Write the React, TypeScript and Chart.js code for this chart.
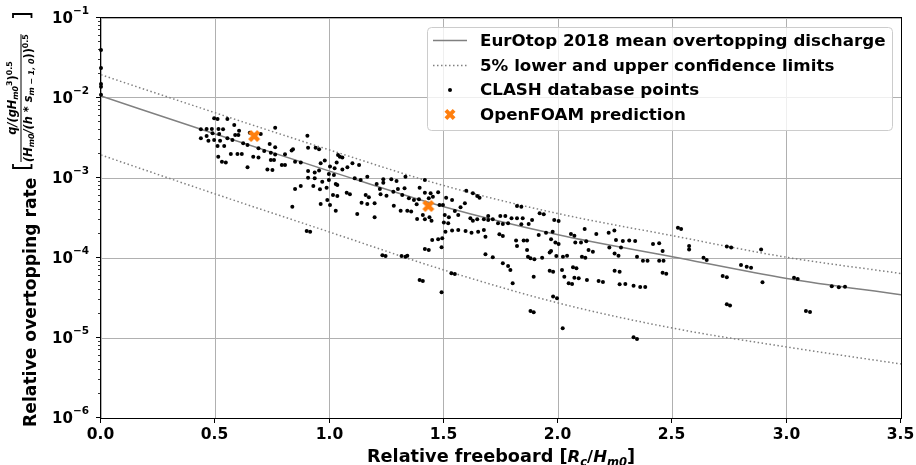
import React, { useEffect, useRef } from "react";
import { Chart, registerables } from "chart.js";

Chart.register(...registerables);

const FONT = '"DejaVu Sans", "Liberation Sans", sans-serif';

// Curves (relative freeboard -> relative overtopping rate)
const curveX = [0, 0.5, 1.0, 1.5, 2.0, 2.5, 3.0, 3.5];
const meanQ = [1.06e-2, 3.55e-3, 1.22e-3, 4.37e-4, 1.95e-4, 1.035e-4, 5.56e-5, 3.47e-5];
const upperQ = [1.95e-2, 6.53e-3, 2.24e-3, 8.04e-4, 3.59e-4, 1.9e-4, 1.02e-4, 6.4e-5];
const lowerQ = [1.94e-3, 6.31e-4, 2.11e-4, 7.08e-5, 2.74e-5, 1.33e-5, 7.72e-6, 4.73e-6];

// OpenFOAM predictions
const foamX = [0.67, 1.432];
const foamQ = [3.35e-3, 4.47e-4];

// CLASH database points [Rc/Hm0, q*]
const clashPoints: [number, number][] = [
  [0.0, 3.98e-2], [0.0, 2.37e-2], [0.0, 1.5e-2], [0.0, 1.38e-2], [0.0, 1.1e-2],
  [0.495, 5.57e-3], [0.510, 5.46e-3], [0.553, 5.46e-3], [0.583, 4.6e-3], [0.604, 3.91e-3],
  [0.762, 4.26e-3], [0.437, 4.06e-3], [0.462, 4.1e-3], [0.485, 4.1e-3], [0.514, 4.1e-3],
  [0.534, 4.06e-3], [0.488, 3.62e-3], [0.517, 3.55e-3], [0.587, 3.45e-3], [0.601, 3.45e-3],
  [0.651, 3.69e-3], [0.699, 3.55e-3], [0.437, 3.13e-3], [0.462, 3.35e-3], [0.470, 2.93e-3],
  [0.495, 2.98e-3], [0.521, 2.93e-3], [0.553, 3.13e-3], [0.575, 2.98e-3], [0.510, 2.51e-3],
  [0.539, 2.51e-3], [0.622, 2.71e-3], [0.641, 2.58e-3], [0.689, 2.35e-3], [0.738, 2.66e-3],
  [0.762, 2.42e-3], [0.714, 2.18e-3], [0.743, 2.07e-3], [0.762, 1.96e-3], [0.568, 2.0e-3],
  [0.597, 2.0e-3], [0.616, 2.0e-3], [0.513, 1.85e-3], [0.666, 1.85e-3], [0.689, 1.81e-3],
  [0.805, 1.98e-3], [0.834, 2.2e-3], [0.840, 2.28e-3], [0.529, 1.6e-3], [0.546, 1.56e-3],
  [0.743, 1.68e-3], [0.757, 1.68e-3], [0.791, 1.45e-3], [0.805, 1.45e-3], [0.849, 1.6e-3],
  [0.874, 1.56e-3], [0.641, 1.36e-3], [0.728, 1.28e-3], [0.750, 1.26e-3], [0.849, 7.29e-4],
  [0.874, 7.94e-4], [0.837, 4.38e-4],
  [0.903, 3.38e-3], [0.906, 2.39e-3], [0.939, 2.39e-3], [0.954, 2.28e-3], [1.037, 1.94e-3],
  [1.045, 1.85e-3], [1.056, 1.81e-3], [0.961, 1.53e-3], [0.979, 1.65e-3], [1.031, 1.56e-3],
  [1.002, 1.39e-3], [1.022, 1.32e-3], [1.078, 1.36e-3], [1.100, 1.53e-3], [1.129, 1.45e-3],
  [0.906, 1.22e-3], [0.935, 1.17e-3], [0.954, 1.24e-3], [0.997, 1.12e-3], [1.019, 1.09e-3],
  [1.056, 1.28e-3], [0.906, 1.01e-3], [0.935, 9.9e-4], [0.968, 9.0e-4], [0.997, 9.44e-4],
  [1.027, 8.41e-4], [1.034, 8.18e-4], [0.929, 7.94e-4], [0.958, 7.22e-4], [0.987, 7.57e-4],
  [1.110, 9.9e-4], [1.136, 9.44e-4], [1.165, 1.04e-3], [1.206, 8.41e-4], [1.235, 9.62e-4],
  [1.235, 8.74e-4], [1.270, 9.62e-4], [1.293, 9.17e-4], [1.332, 1.04e-3], [1.220, 7.29e-4],
  [1.279, 6.75e-4], [1.299, 7.29e-4], [1.318, 6.13e-4], [1.328, 7.43e-4], [1.075, 6.56e-4],
  [1.089, 6.25e-4], [1.015, 6.13e-4], [1.034, 5.96e-4], [0.990, 5.31e-4], [0.961, 4.73e-4],
  [1.002, 4.6e-4], [1.140, 4.92e-4], [1.158, 6.13e-4], [1.172, 5.73e-4], [1.165, 4.73e-4],
  [1.197, 4.82e-4], [1.223, 6.25e-4], [1.249, 6.01e-4], [1.347, 5.57e-4], [1.369, 5.31e-4],
  [1.391, 5.41e-4], [1.281, 4.51e-4], [1.311, 3.91e-4], [1.340, 3.91e-4], [1.357, 3.8e-4],
  [1.381, 4.69e-4], [1.383, 3.07e-4], [1.027, 3.91e-4], [1.121, 3.55e-4], [1.197, 3.22e-4],
  [0.900, 2.18e-4], [0.915, 2.13e-4], [1.231, 1.08e-4], [1.245, 1.06e-4], [1.315, 1.06e-4],
  [1.332, 1.04e-4], [1.340, 1.07e-4],
  [1.417, 9.44e-4], [1.394, 7.57e-4], [1.417, 6.56e-4], [1.442, 6.43e-4], [1.475, 6.62e-4],
  [1.452, 5.84e-4], [1.434, 5.57e-4], [1.481, 4.6e-4], [1.496, 4.6e-4], [1.510, 5.68e-4],
  [1.536, 5.31e-4], [1.598, 6.95e-4], [1.627, 6.43e-4], [1.646, 5.96e-4], [1.656, 5.68e-4],
  [1.592, 4.82e-4], [1.573, 4.3e-4], [1.548, 3.87e-4], [1.563, 3.45e-4], [1.408, 3.45e-4],
  [1.417, 3.04e-4], [1.437, 3.22e-4], [1.446, 2.93e-4], [1.504, 3.45e-4], [1.522, 3.22e-4],
  [1.500, 2.77e-4], [1.519, 2.71e-4], [1.616, 3.13e-4], [1.627, 2.93e-4], [1.646, 3.04e-4],
  [1.675, 3.04e-4], [1.694, 3.35e-4], [1.694, 2.99e-4], [1.714, 3.04e-4], [1.747, 3.35e-4],
  [1.769, 3.35e-4], [1.796, 3.13e-4], [1.820, 3.13e-4], [1.845, 3.13e-4], [1.886, 2.99e-4],
  [1.737, 2.71e-4], [1.758, 2.66e-4], [1.781, 2.71e-4], [1.820, 4.47e-4], [1.839, 4.38e-4],
  [1.839, 2.64e-4], [1.871, 2.66e-4], [1.507, 2.13e-4], [1.536, 2.2e-4], [1.563, 2.24e-4],
  [1.595, 2.18e-4], [1.621, 2.07e-4], [1.650, 2.13e-4], [1.675, 2.24e-4], [1.682, 1.85e-4],
  [1.743, 1.98e-4], [1.758, 1.88e-4], [1.449, 1.68e-4], [1.475, 1.71e-4], [1.493, 1.76e-4],
  [1.417, 1.3e-4], [1.434, 1.26e-4], [1.490, 1.36e-4], [1.816, 1.65e-4], [1.820, 1.41e-4],
  [1.849, 1.65e-4], [1.864, 1.65e-4], [1.864, 1.26e-4], [1.868, 1.04e-4], [1.879, 9.9e-5],
  [1.682, 1.11e-4], [1.714, 1.02e-4], [1.758, 8.58e-5], [1.781, 7.94e-5], [1.791, 7.08e-5],
  [1.893, 5.84e-5], [1.533, 6.43e-5], [1.548, 6.31e-5], [1.394, 5.31e-5], [1.408, 5.16e-5],
  [1.801, 4.82e-5], [1.490, 3.72e-5], [1.879, 2.18e-5], [1.893, 2.1e-5],
  [1.919, 3.62e-4], [1.937, 3.52e-4], [1.983, 2.99e-4], [2.002, 2.9e-4], [1.915, 1.94e-4],
  [1.947, 2.07e-4], [1.976, 2.13e-4], [1.969, 1.71e-4], [1.988, 1.56e-4], [2.002, 1.5e-4],
  [2.056, 2.0e-4], [2.071, 1.9e-4], [2.116, 2.3e-4], [2.167, 2.0e-4], [2.221, 2.07e-4],
  [2.246, 2.2e-4], [2.075, 1.56e-4], [2.100, 1.56e-4], [2.123, 1.62e-4], [2.253, 1.68e-4],
  [2.283, 1.63e-4], [2.311, 1.65e-4], [2.337, 1.63e-4], [1.963, 1.17e-4], [1.969, 1.22e-4],
  [2.133, 1.26e-4], [2.152, 1.2e-4], [2.224, 1.35e-4], [2.275, 1.35e-4], [2.247, 1.14e-4],
  [2.264, 1.07e-4], [1.896, 9.62e-5], [1.930, 1.01e-4], [1.992, 1.06e-4], [2.021, 1.04e-4],
  [2.039, 1.07e-4], [2.104, 1.04e-4], [2.119, 1.01e-4], [2.345, 1.04e-4], [2.371, 9.26e-5],
  [2.391, 9.26e-5], [1.963, 6.95e-5], [1.978, 6.75e-5], [2.017, 7.08e-5], [2.065, 7.64e-5],
  [2.080, 7.43e-5], [2.027, 5.84e-5], [2.071, 5.68e-5], [2.090, 5.57e-5], [2.046, 4.82e-5],
  [2.061, 4.73e-5], [2.126, 5.31e-5], [2.177, 5.16e-5], [2.196, 5.01e-5], [2.247, 6.95e-5],
  [2.269, 6.75e-5], [2.269, 4.69e-5], [2.294, 4.73e-5], [2.330, 4.51e-5], [2.359, 4.34e-5],
  [2.381, 4.34e-5], [1.978, 3.29e-5], [1.995, 3.13e-5], [2.020, 1.32e-5], [2.330, 1.02e-5],
  [2.345, 9.7e-6],
  [2.524, 2.39e-4], [2.538, 2.3e-4], [2.415, 1.5e-4], [2.442, 1.53e-4], [2.457, 1.22e-4],
  [2.573, 1.41e-4], [2.573, 1.28e-4], [2.738, 1.39e-4], [2.757, 1.35e-4], [2.888, 1.28e-4],
  [2.442, 9.26e-5], [2.461, 9.26e-5], [2.636, 1.01e-4], [2.650, 9.44e-5], [2.800, 8.18e-5],
  [2.825, 7.79e-5], [2.844, 7.57e-5], [2.457, 6.56e-5], [2.473, 6.37e-5], [2.720, 5.96e-5],
  [2.738, 5.73e-5], [2.894, 4.97e-5], [2.738, 2.64e-5], [2.752, 2.54e-5],
  [3.032, 5.68e-5], [3.048, 5.46e-5], [3.084, 2.18e-5], [3.102, 2.11e-5], [3.197, 4.43e-5],
  [3.228, 4.3e-5], [3.255, 4.38e-5],
];

const xTickValues = [0, 0.5, 1.0, 1.5, 2.0, 2.5, 3.0, 3.5];
const yTickExponents = [-6, -5, -4, -3, -2, -1];

const legendLabels = [
  "EurOtop 2018 mean overtopping discharge",
  "5% lower and upper confidence limits",
  "CLASH database points",
  "OpenFOAM prediction",
];

const GREY = "#808080";
const ORANGE = "#ff7f0e";

type Run = { t: string; size: number; italic?: boolean; dy?: number };

function fontOf(r: Run) {
  return `${r.italic ? "italic " : ""}bold ${r.size}px ${FONT}`;
}
function runsWidth(ctx: CanvasRenderingContext2D, runs: Run[]) {
  let w = 0;
  for (const r of runs) {
    ctx.font = fontOf(r);
    w += ctx.measureText(r.t).width;
  }
  return w;
}
function drawRuns(ctx: CanvasRenderingContext2D, runs: Run[], x: number, y: number) {
  for (const r of runs) {
    ctx.font = fontOf(r);
    ctx.fillText(r.t, x, y + (r.dy || 0));
    x += ctx.measureText(r.t).width;
  }
  return x;
}
function scaleRuns(runs: Run[], k: number): Run[] {
  return runs.map((r) => ({ ...r, size: r.size * k, dy: (r.dy || 0) * k }));
}

function xMarkerPath(g: CanvasRenderingContext2D, cx: number, cy: number, size: number) {
  const pts = [[-1, -2], [0, -1], [1, -2], [2, -1], [1, 0], [2, 1], [1, 2], [0, 1], [-1, 2], [-2, 1], [-1, 0], [-2, -1]];
  g.beginPath();
  pts.forEach(([px, py], i) => {
    const X = cx + (px / 4) * size;
    const Y = cy + (py / 4) * size;
    if (i) g.lineTo(X, Y);
    else g.moveTo(X, Y);
  });
  g.closePath();
}

function makeXMarker(size: number, color: string) {
  const c = document.createElement("canvas");
  c.width = size + 2;
  c.height = size + 2;
  const g = c.getContext("2d") as CanvasRenderingContext2D;
  xMarkerPath(g, c.width / 2, c.height / 2, size);
  g.fillStyle = color;
  g.fill();
  return c;
}

const decorPlugin = {
  id: "decor",
  afterDraw(chart: any) {
    const ctx: CanvasRenderingContext2D = chart.ctx;
    const a = chart.chartArea;
    const xs = chart.scales.x;
    const ys = chart.scales.y;
    ctx.save();

    // frame
    ctx.strokeStyle = "#000";
    ctx.lineWidth = 1;
    ctx.strokeRect(a.left - 0.5, a.top - 0.5, a.right - a.left + 1, a.bottom - a.top + 1);

    // x ticks + labels
    ctx.fillStyle = "#000";
    ctx.textAlign = "center";
    ctx.textBaseline = "alphabetic";
    for (const v of xTickValues) {
      const px = Math.round(xs.getPixelForValue(v)) - 0.5;
      ctx.beginPath();
      ctx.moveTo(px, a.bottom);
      ctx.lineTo(px, a.bottom + 5);
      ctx.lineWidth = 1;
      ctx.stroke();
      ctx.font = `bold 15.5px ${FONT}`;
      ctx.fillText(v.toFixed(1), px, a.bottom + 20.5);
    }

    // y ticks
    for (const e of yTickExponents) {
      const py = Math.round(ys.getPixelForValue(Math.pow(10, e))) - 0.5;
      ctx.beginPath();
      ctx.moveTo(a.left - 5, py);
      ctx.lineTo(a.left, py);
      ctx.lineWidth = 1;
      ctx.stroke();
      if (e < -1) {
        for (let k = 2; k <= 9; k++) {
          const pm = Math.round(ys.getPixelForValue(k * Math.pow(10, e))) - 0.5;
          ctx.beginPath();
          ctx.moveTo(a.left - 3, pm);
          ctx.lineTo(a.left, pm);
          ctx.lineWidth = 0.8;
          ctx.stroke();
        }
      }
      ctx.textAlign = "left";
      ctx.font = `bold 15px ${FONT}`;
      const w1 = ctx.measureText("10").width;
      ctx.font = `bold 10.5px ${FONT}`;
      const expText = "\u2212" + Math.abs(e);
      const w2 = ctx.measureText(expText).width;
      const x0 = a.left - 12 - w1 - w2;
      ctx.font = `bold 15px ${FONT}`;
      ctx.fillText("10", x0, py + 5.5);
      ctx.font = `bold 10.5px ${FONT}`;
      ctx.fillText(expText, x0 + w1, py - 3.4);
    }

    // x title
    const xRuns: Run[] = [
      { t: "Relative freeboard [", size: 17.7 },
      { t: "R", size: 16.5, italic: true },
      { t: "c", size: 11.5, italic: true, dy: 4 },
      { t: "/", size: 16.5 },
      { t: "H", size: 16.5, italic: true },
      { t: "m0", size: 11.5, italic: true, dy: 4 },
      { t: "]", size: 17.7 },
    ];
    ctx.textAlign = "left";
    const xw = runsWidth(ctx, xRuns);
    drawRuns(ctx, xRuns, (a.left + a.right) / 2 - xw / 2, 461.5);

    // y title (rotated)
    ctx.save();
    ctx.translate(35.5, 427);
    ctx.rotate(-Math.PI / 2);
    drawRuns(ctx, [{ t: "Relative overtopping rate", size: 17.2 }], 0, 0);
    const bx0 = 259;
    ctx.lineWidth = 1.8;
    ctx.beginPath();
    ctx.moveTo(bx0 + 4, -22.5);
    ctx.lineTo(bx0, -22.5);
    ctx.lineTo(bx0, -4);
    ctx.lineTo(bx0 + 4, -4);
    ctx.stroke();
    const numBase: Run[] = [
      { t: "q/(gH", size: 13, italic: true },
      { t: "m0", size: 9, italic: true, dy: 2.5 },
      { t: "3", size: 9, dy: -5 },
      { t: ")", size: 13 },
      { t: "0.5", size: 9, dy: -5 },
    ];
    const denBase: Run[] = [
      { t: "(H", size: 13, italic: true },
      { t: "m0", size: 9, italic: true, dy: 2.5 },
      { t: "/(h * s", size: 13, italic: true },
      { t: "m \u2212 1, 0", size: 9, italic: true, dy: 2.5 },
      { t: "))", size: 13 },
      { t: "0.5", size: 9, dy: -5 },
    ];
    const targetDen = 128;
    const k = targetDen / runsWidth(ctx, denBase);
    const numRuns = scaleRuns(numBase, k);
    const denRuns = scaleRuns(denBase, k);
    const nw = runsWidth(ctx, numRuns);
    const dw = runsWidth(ctx, denRuns);
    const fw = Math.max(nw, dw);
    const f0 = 265;
    drawRuns(ctx, numRuns, f0 + (fw - nw) / 2, -19.5);
    drawRuns(ctx, denRuns, f0 + (fw - dw) / 2, -3.5);
    ctx.lineWidth = 1;
    ctx.beginPath();
    ctx.moveTo(f0, -14.5);
    ctx.lineTo(f0 + fw, -14.5);
    ctx.stroke();
    const bx1 = 413;
    ctx.lineWidth = 1.8;
    ctx.beginPath();
    ctx.moveTo(bx1 - 4, -22.5);
    ctx.lineTo(bx1, -22.5);
    ctx.lineTo(bx1, -4);
    ctx.lineTo(bx1 - 4, -4);
    ctx.stroke();
    ctx.restore();

    // legend
    const L = 427.5, T = 27.5, R = 892.5, B = 130.5, rad = 4;
    ctx.beginPath();
    ctx.moveTo(L + rad, T);
    ctx.lineTo(R - rad, T);
    ctx.quadraticCurveTo(R, T, R, T + rad);
    ctx.lineTo(R, B - rad);
    ctx.quadraticCurveTo(R, B, R - rad, B);
    ctx.lineTo(L + rad, B);
    ctx.quadraticCurveTo(L, B, L, B - rad);
    ctx.lineTo(L, T + rad);
    ctx.quadraticCurveTo(L, T, L + rad, T);
    ctx.closePath();
    ctx.fillStyle = "rgba(255,255,255,0.8)";
    ctx.fill();
    ctx.strokeStyle = "#cccccc";
    ctx.lineWidth = 1;
    ctx.stroke();

    const rows = [40.5, 65.5, 90, 114.5];
    ctx.strokeStyle = GREY;
    ctx.lineWidth = 1.5;
    ctx.beginPath();
    ctx.moveTo(433, rows[0]);
    ctx.lineTo(467, rows[0]);
    ctx.stroke();
    ctx.setLineDash([1.5, 2.5]);
    ctx.beginPath();
    ctx.moveTo(433, rows[1]);
    ctx.lineTo(467, rows[1]);
    ctx.stroke();
    ctx.setLineDash([]);
    ctx.fillStyle = "#000";
    ctx.beginPath();
    ctx.arc(450, rows[2], 2, 0, Math.PI * 2);
    ctx.fill();
    xMarkerPath(ctx, 450, rows[3], 11);
    ctx.fillStyle = ORANGE;
    ctx.fill();

    ctx.fillStyle = "#000";
    ctx.font = `bold 16.7px ${FONT}`;
    ctx.textAlign = "left";
    ctx.textBaseline = "middle";
    legendLabels.forEach((lab, i) => ctx.fillText(lab, 480, rows[i] + 1));
    ctx.restore();
  },
};

export default function App() {
  const ref = useRef<HTMLCanvasElement | null>(null);
  useEffect(() => {
    if (!ref.current) return;
    const xImg = makeXMarker(12, ORANGE);
    const curve = (ys: number[]) => curveX.map((x, i) => ({ x, y: ys[i] }));
    const lineStyle = {
      type: "line" as const,
      borderColor: GREY,
      borderWidth: 1.5,
      pointRadius: 0,
      cubicInterpolationMode: "monotone" as const,
      showLine: true,
      fill: false,
    };
    const chart = new Chart(ref.current, {
      type: "scatter",
      data: {
        datasets: [
          { ...lineStyle, label: legendLabels[0], data: curve(meanQ), order: 3 },
          { ...lineStyle, label: legendLabels[1], data: curve(upperQ), borderDash: [1.5, 2.5], order: 3 },
          { ...lineStyle, label: legendLabels[1] + " (lower)", data: curve(lowerQ), borderDash: [1.5, 2.5], order: 3 },
          {
            label: legendLabels[2],
            data: clashPoints.map(([x, y]) => ({ x, y })),
            backgroundColor: "#000",
            borderColor: "#000",
            borderWidth: 0,
            pointRadius: 2,
            clip: false,
            order: 2,
          } as any,
          {
            label: legendLabels[3],
            data: foamX.map((x, i) => ({ x, y: foamQ[i] })),
            pointStyle: xImg,
            pointRadius: 6,
            clip: false,
            order: 1,
          } as any,
        ],
      },
      options: {
        animation: false,
        responsive: false,
        devicePixelRatio: 1,
        layout: { padding: { top: 18, right: 15, left: 0, bottom: 0 } },
        plugins: { legend: { display: false }, tooltip: { enabled: false } },
        scales: {
          x: {
            type: "linear",
            min: 0,
            max: 3.5,
            ticks: { display: false, stepSize: 0.5 },
            grid: { color: "#b0b0b0", lineWidth: 1, drawTicks: false },
            border: { display: false },
            afterFit: (s: any) => {
              s.height = 47;
            },
          },
          y: {
            type: "logarithmic",
            min: 1e-6,
            max: 1e-1,
            ticks: { display: false },
            afterBuildTicks: (s: any) => {
              s.ticks = yTickExponents.map((e) => ({ value: Math.pow(10, e) }));
            },
            grid: { color: "#b0b0b0", lineWidth: 1, drawTicks: false },
            border: { display: false },
            afterFit: (s: any) => {
              s.width = 101;
            },
          },
        },
      } as any,
      plugins: [decorPlugin],
    });
    return () => chart.destroy();
  }, []);
  return (
    <canvas
      ref={ref}
      width={916}
      height={465}
      style={{ position: "fixed", left: 0, top: 0, width: 916, height: 465, display: "block", background: "#fff" }}
    />
  );
}
